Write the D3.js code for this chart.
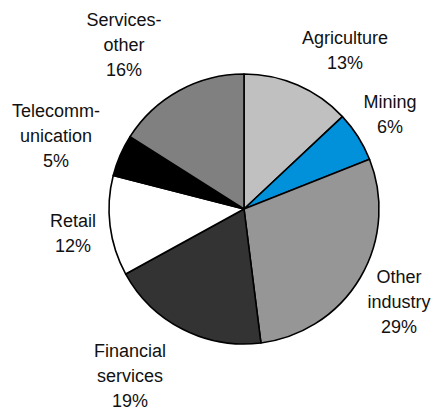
<!DOCTYPE html>
<html>
<head>
<meta charset="utf-8">
<script src="https://cdn.jsdelivr.net/npm/d3@7"></script>
<style>
  html, body { margin: 0; padding: 0; background: #fff; }
  svg { display: block; }
  text { font-family: "Liberation Sans", Arial, sans-serif; font-size: 18px; fill: #111; }
</style>
</head>
<body>
<svg id="chart" width="435" height="412"></svg>
<script>
// Sector shares, clockwise from 12 o'clock
const categories = ["Agriculture", "Mining", "Other industry", "Financial services",
                    "Retail", "Telecommunication", "Services-other"];
const shares = [13, 6, 29, 19, 12, 5, 16];
const labelLines = [
  ["Agriculture", "13%"],
  ["Mining", "6%"],
  ["Other", "industry", "29%"],
  ["Financial", "services", "19%"],
  ["Retail", "12%"],
  ["Telecomm-", "unication", "5%"],
  ["Services-", "other", "16%"]
];
const sliceColors = ["#c0c0c0", "#0091da", "#969696", "#333333", "#ffffff", "#000000", "#808080"];

// Label anchor (centre x, first baseline y)
const labelAnchors = [
  [345, 44], [390, 108], [399, 283], [130, 357], [73, 227], [56, 117], [124, 26]
];

const svg = d3.select("#chart");
const cx = 244, cy = 209, radius = 135;

const pie = d3.pie().sort(null).value(d => d.value);
const arc = d3.arc().innerRadius(0).outerRadius(radius);

const data = categories.map((c, i) => ({ name: c, value: shares[i], color: sliceColors[i] }));

const g = svg.append("g").attr("transform", `translate(${cx},${cy})`);
g.selectAll("path")
  .data(pie(data))
  .join("path")
  .attr("d", arc)
  .attr("fill", d => d.data.color)
  .attr("stroke", "#000")
  .attr("stroke-width", 1.6)
  .attr("stroke-linejoin", "round");

const lineH = 25;
labelLines.forEach((lines, i) => {
  const t = svg.append("text")
    .attr("text-anchor", "middle")
    .attr("x", labelAnchors[i][0])
    .attr("y", labelAnchors[i][1]);
  lines.forEach((ln, j) => {
    t.append("tspan")
      .attr("x", labelAnchors[i][0])
      .attr("dy", j === 0 ? 0 : lineH)
      .text(ln);
  });
});
</script>
</body>
</html>
